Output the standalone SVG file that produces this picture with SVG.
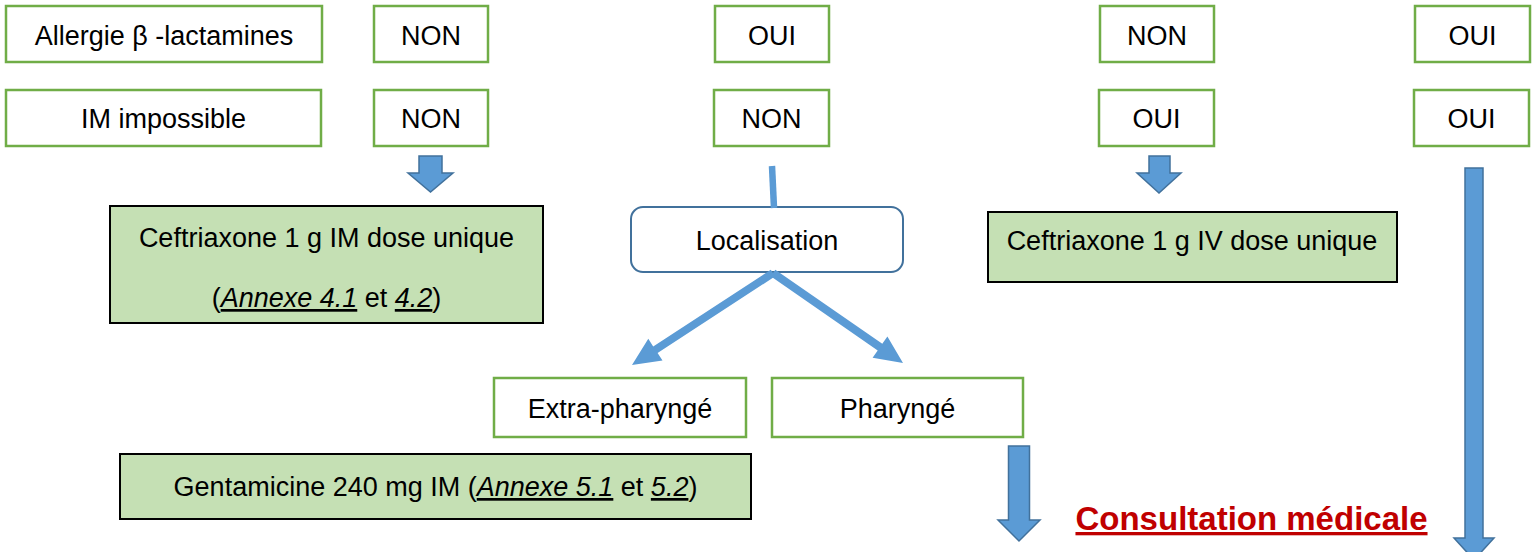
<svg xmlns="http://www.w3.org/2000/svg" width="1535" height="552" viewBox="0 0 1535 552">
<style>
.g{fill:#fff;stroke:#70AD47;stroke-width:2.5}
.t{fill:#C5E0B4;stroke:#000;stroke-width:2}
.loc{fill:#fff;stroke:#41719C;stroke-width:2}
.ba{fill:#5B9BD5;stroke:#41719C;stroke-width:1.5}
.ln{fill:#5B9BD5;stroke:none}
text{font-family:"Liberation Sans",Arial,sans-serif;font-size:27px;fill:#000;text-anchor:middle}
.u{font-style:italic;text-decoration:underline}
.cm{font-size:33px;font-weight:bold;fill:#C00000;text-decoration:underline}
</style>
<g id="allergie"><rect class="g" x="6" y="6" width="316" height="56"/><text x="164" y="45">Allergie β -lactamines</text></g>
<g id="im-impossible"><rect class="g" x="6" y="90" width="315" height="56"/><text x="163.5" y="128">IM impossible</text></g>
<g id="c1-allergie"><rect class="g" x="374" y="6" width="114" height="56"/><text x="431" y="45">NON</text></g>
<g id="c1-im"><rect class="g" x="374" y="90" width="114" height="56"/><text x="431" y="128">NON</text></g>
<g id="c2-allergie"><rect class="g" x="715" y="6" width="114" height="56"/><text x="772" y="45">OUI</text></g>
<g id="c2-im"><rect class="g" x="714" y="90" width="115" height="56"/><text x="771.5" y="128">NON</text></g>
<g id="c3-allergie"><rect class="g" x="1100" y="6" width="114" height="56"/><text x="1157" y="45">NON</text></g>
<g id="c3-im"><rect class="g" x="1099" y="90" width="115" height="56"/><text x="1156.5" y="128">OUI</text></g>
<g id="c4-allergie"><rect class="g" x="1415" y="6" width="115" height="56"/><text x="1472.5" y="45">OUI</text></g>
<g id="c4-im"><rect class="g" x="1414" y="90" width="115" height="56"/><text x="1471.5" y="128">OUI</text></g>
<g id="ceftriaxone-im"><rect class="t" x="110" y="206" width="433" height="117"/><text x="326.5" y="247">Ceftriaxone 1 g IM dose unique</text><text x="326.5" y="307">(<tspan class="u">Annexe 4.1</tspan> et <tspan class="u">4.2</tspan>)</text></g>
<g id="localisation"><rect class="loc" x="631" y="207" width="272" height="65" rx="12"/><text x="767" y="250">Localisation</text></g>
<g id="ceftriaxone-iv"><rect class="t" x="988" y="212" width="409" height="70"/><text x="1192" y="250">Ceftriaxone 1 g IV dose unique</text></g>
<g id="extra-pharynge"><rect class="g" x="494" y="378" width="252" height="59"/><text x="620" y="418">Extra-pharyngé</text></g>
<g id="pharynge"><rect class="g" x="772" y="378" width="251" height="59"/><text x="897.5" y="418">Pharyngé</text></g>
<g id="gentamicine"><rect class="t" x="120" y="454" width="631" height="65"/><text x="435.5" y="496">Gentamicine 240 mg IM (<tspan class="u">Annexe 5.1</tspan> et <tspan class="u">5.2</tspan>)</text></g>
<g id="consultation"><text class="cm" x="1251.5" y="530">Consultation médicale</text></g>
<g id="connectors">
<polygon class="ba" points="419,156 442,156 442,173 453,173 430.5,192 408,173 419,173"/>
<polygon class="ba" points="1149,156 1170,156 1170,173 1181,173 1159,193 1137,173 1149,173"/>
<polygon class="ba" points="1008.5,446 1029.5,446 1029.5,520 1040,520 1019,541 998,520 1008.5,520"/>
<polygon class="ba" points="1465,168 1483,168 1483,538 1494,538 1474,560 1454,538 1465,538"/>
<line x1="772" y1="166" x2="774" y2="208" stroke="#5B9BD5" stroke-width="6.5"/>
<polygon class="ln" points="775.2,276.3 657.6,353 662.5,360.6 632,365 648.3,338.8 653.2,346.4 770.8,269.7"/>
<polygon class="ln" points="770.7,276.3 877.7,350.4 872.6,357.8 903,363 887.4,336.4 882.3,343.8 775.3,269.7"/>
</g>
</svg>
